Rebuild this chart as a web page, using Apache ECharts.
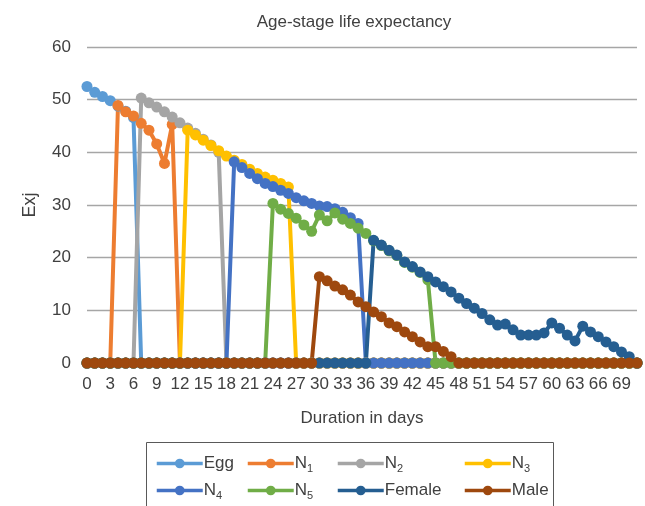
<!DOCTYPE html>
<html>
<head>
<meta charset="utf-8">
<script src="https://cdn.jsdelivr.net/npm/echarts@6/dist/echarts.min.js"></script>
<style>
html,body{margin:0;padding:0;background:#fff;}
#chart{width:645px;height:506px;}
</style>
</head>
<body>
<div id="chart"></div>
<script>
// ---- Data ----
const days = [
  '0','1','2','3','4','5','6','7','8','9',
  '10','11','12','13','14','15','16','17','18','19',
  '20','21','22','23','24','25','26','27','28','29',
  '30','31','32','33','34','35','36','37','38','39',
  '40','41','42','43','44','45','46','47','48','49',
  '50','51','52','53','54','55','56','57','58','59',
  '60','61','62','63','64','65','66','67','68','69',
  '70','71'
];
const seriesNames = ['Egg', 'N1', 'N2', 'N3', 'N4', 'N5', 'Female', 'Male'];

const egg = [
  52.5,51.4,50.6,49.8,48.8,47.8,46.6,0,0,0,
  0,0,0,0,0,0,0,0,0,0,
  0,0,0,0,0,0,0,0,0,0,
  0,0,0,0,0,0,0,0,0,0,
  0,0,0,0,0,0,0,0,0,0,
  0,0,0,0,0,0,0,0,0,0,
  0,0,0,0,0,0,0,0,0,0,
  0,0
];
const n1 = [
  0,0,0,0,48.9,47.7,46.9,45.5,44.2,41.6,
  37.9,45.3,0,0,0,0,0,0,0,0,
  0,0,0,0,0,0,0,0,0,0,
  0,0,0,0,0,0,0,0,0,0,
  0,0,0,0,0,0,0,0,0,0,
  0,0,0,0,0,0,0,0,0,0,
  0,0,0,0,0,0,0,0,0,0,
  0,0
];
const n2 = [
  0,0,0,0,0,0,0,50.3,49.4,48.6,
  47.7,46.7,45.6,44.6,43.6,42.5,41.4,40.0,0,0,
  0,0,0,0,0,0,0,0,0,0,
  0,0,0,0,0,0,0,0,0,0,
  0,0,0,0,0,0,0,0,0,0,
  0,0,0,0,0,0,0,0,0,0,
  0,0,0,0,0,0,0,0,0,0,
  0,0
];
const n3 = [
  0,0,0,0,0,0,0,0,0,0,
  0,0,0,44.2,43.3,42.3,41.3,40.3,39.3,38.5,
  37.7,36.8,36.0,35.3,34.7,34.1,33.4,0,0,0,
  0,0,0,0,0,0,0,0,0,0,
  0,0,0,0,0,0,0,0,0,0,
  0,0,0,0,0,0,0,0,0,0,
  0,0,0,0,0,0,0,0,0,0,
  0,0
];
const n4 = [
  0,0,0,0,0,0,0,0,0,0,
  0,0,0,0,0,0,0,0,0,38.2,
  37.1,36.0,35.0,34.1,33.5,32.8,32.2,31.4,30.8,30.3,
  29.8,29.7,29.3,28.6,27.6,26.5,0,0,0,0,
  0,0,0,0,0,0,0,0,0,0,
  0,0,0,0,0,0,0,0,0,0,
  0,0,0,0,0,0,0,0,0,0,
  0,0
];
const n5 = [
  0,0,0,0,0,0,0,0,0,0,
  0,0,0,0,0,0,0,0,0,0,
  0,0,0,0,30.3,29.2,28.4,27.5,26.2,25.0,
  28.1,27.0,28.5,27.3,26.5,25.6,24.6,23.2,22.3,21.3,
  20.4,19.1,18.2,17.2,15.8,0,0,0,0,0,
  0,0,0,0,0,0,0,0,0,0,
  0,0,0,0,0,0,0,0,0,0,
  0,0
];
const female = [
  0,0,0,0,0,0,0,0,0,0,
  0,0,0,0,0,0,0,0,0,0,
  0,0,0,0,0,0,0,0,0,0,
  0,0,0,0,0,0,0,23.3,22.4,21.4,
  20.5,19.2,18.3,17.3,16.4,15.4,14.5,13.5,12.3,11.3,
  10.4,9.4,8.2,7.2,7.4,6.3,5.3,5.3,5.3,5.7,
  7.6,6.6,5.3,4.2,7.0,5.9,5.0,4.0,3.1,2.1,
  1.2,0
];
const male = [
  0,0,0,0,0,0,0,0,0,0,
  0,0,0,0,0,0,0,0,0,0,
  0,0,0,0,0,0,0,0,0,0,
  16.4,15.6,14.6,13.9,12.9,11.6,10.7,9.7,8.8,7.6,
  6.9,5.9,5.0,4.0,3.1,3.1,2.2,1.2,0,0,
  0,0,0,0,0,0,0,0,0,0,
  0,0,0,0,0,0,0,0,0,0,
  0,0
];
const seriesData = [egg, n1, n2, n3, n4, n5, female, male];
const yTicks = [0, 60, 10]; // min, max, interval

// ---- Styles ----
const colors = ['#5B9BD5', '#ED7D31', '#A5A5A5', '#FFC000', '#4472C4', '#70AD47', '#255E91', '#9E480E'];
const FONT = '"Liberation Sans", Arial, sans-serif';
const TXT = '#404040';

const chart = echarts.init(document.getElementById('chart'), null, {renderer: 'canvas'});

const legendPos = [
  [155, 455], [246, 455], [336, 455], [463, 455],
  [155, 482], [246, 482], [336, 482], [463, 482]
];
function legendFormatter(name) {
  const m = /^N(\d)$/.exec(name);
  if (m) return '{n|N}{s|' + m[1] + '}';
  return '{n|' + name + '}';
}
const legends = seriesNames.map((nm, i) => ({
  left: legendPos[i][0],
  top: legendPos[i][1],
  padding: 0,
  itemWidth: 46,
  itemHeight: 12,
  itemGap: 0,
  data: [nm],
  formatter: legendFormatter,
  lineStyle: {width: 3.5},
  textStyle: {
    color: TXT,
    fontFamily: FONT,
    fontSize: 17,
    padding: [0, 0, 0, -4],
    rich: {
      n: {fontSize: 17, fontFamily: FONT, color: TXT},
      s: {fontSize: 11, fontFamily: FONT, color: TXT, padding: [11, 0, 0, 0]}
    }
  }
}));

const option = {
  animation: false,
  backgroundColor: '#fff',
  color: colors,
  title: {
    text: 'Age-stage life expectancy',
    left: 349,
    textAlign: 'center',
    top: 9,
    textStyle: {fontFamily: FONT, fontSize: 17, fontWeight: 'normal', color: TXT}
  },
  legend: legends,
  grid: {left: 87, right: 8, top: 47, bottom: 143, containLabel: false},
  xAxis: {
    type: 'category',
    data: days,
    boundaryGap: false,
    name: 'Duration in days',
    nameLocation: 'middle',
    nameGap: 47,
    nameTextStyle: {fontFamily: FONT, fontSize: 17, color: TXT},
    axisLine: {show: false},
    axisTick: {show: false},
    axisLabel: {interval: 2, fontFamily: FONT, fontSize: 17, color: TXT, margin: 13}
  },
  yAxis: {
    type: 'value',
    min: yTicks[0],
    max: yTicks[1],
    interval: yTicks[2],
    name: 'Exj',
    nameLocation: 'middle',
    nameRotate: 90,
    nameGap: 48,
    nameTextStyle: {fontFamily: FONT, fontSize: 18, color: TXT},
    axisLine: {show: false},
    axisTick: {show: false},
    axisLabel: {fontFamily: FONT, fontSize: 17, color: TXT, margin: 16},
    splitLine: {lineStyle: {color: '#A6A6A6', width: 1.3}}
  },
  series: seriesNames.map((nm, i) => ({
    name: nm,
    type: 'line',
    data: seriesData[i],
    symbol: 'circle',
    symbolSize: 11,
    showAllSymbol: true,
    lineStyle: {width: 4, color: colors[i]},
    itemStyle: {color: colors[i]},
    emphasis: {disabled: true}
  })),
  graphic: [{
    type: 'rect',
    shape: {x: 146.5, y: 442.5, width: 407, height: 80},
    style: {fill: 'none', stroke: '#595959', lineWidth: 1},
    z: 100
  }]
};
chart.setOption(option);
</script>
</body>
</html>
